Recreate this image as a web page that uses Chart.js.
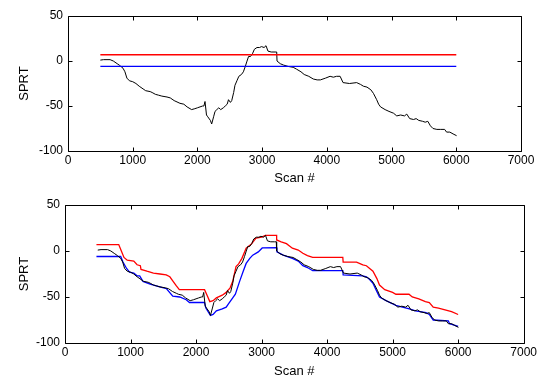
<!DOCTYPE html>
<html>
<head>
<meta charset="utf-8">
<script src="https://cdn.jsdelivr.net/npm/chart.js@4"></script>
<style>
  body { margin: 0; background: #fff; }
  .wrap { position: absolute; left: 0; width: 539px; }
  #panelTop { top: 0; height: 190px; }
  #panelBot { top: 190px; height: 189px; }
</style>
</head>
<body>
<div class="wrap" id="panelTop"><canvas id="sprtTop" width="539" height="190"></canvas></div>
<div class="wrap" id="panelBot"><canvas id="sprtBot" width="539" height="189"></canvas></div>
<script>
// black SPRT trace
const scanX = [500, 550, 650, 700, 760, 800, 850, 880, 910, 950, 1000, 1050, 1100, 1160, 1200, 1270, 1300, 1350, 1400, 1450,
  1530, 1580, 1640, 1700, 1730, 1790, 1840, 1910, 1960, 2000, 2040, 2080, 2100, 2117, 2140, 2160, 2200, 2220, 2250, 2272,
  2300, 2330, 2360, 2400, 2430, 2460, 2480, 2510, 2530, 2560, 2580, 2610, 2640, 2680, 2710, 2740, 2762, 2790, 2820, 2850,
  2880, 2920, 2960, 2990, 3030, 3060, 3090, 3140, 3200, 3225, 3230, 3280, 3330, 3400, 3480, 3530, 3600, 3650, 3720, 3790,
  3850, 3900, 3980, 4050, 4100, 4150, 4205, 4250, 4350, 4460, 4520, 4565, 4620, 4680, 4720, 4770, 4800, 4830, 4900, 4960,
  5030, 5080, 5140, 5200, 5235, 5280, 5340, 5380, 5420, 5480, 5520, 5560, 5600, 5640, 5700, 5760, 5820, 5850, 5900, 5950, 6005];
const sprt = [1, 1.5, 1.5, 0, -3, -5, -8, -12, -19, -22, -23, -25, -28, -31, -33, -34, -35, -37, -38, -39,
  -40, -41, -44, -46, -47, -48, -51, -54, -53, -52, -51, -50, -50, -45, -60, -62, -66, -70, -62, -56,
  -54, -52, -54, -52, -50, -48, -43, -46, -44, -35, -27, -22, -17, -15, -12, -6, -1, 5, 5, 8,
  13, 15, 15, 16, 15, 17, 11, 10, 10, 10, 0, -3, -4.5, -6, -7, -9, -12, -15, -17, -20,
  -21, -21, -19, -17, -18, -17, -17, -24, -25, -24, -26, -28, -29, -32, -36, -43, -48, -51, -54, -56,
  -58, -61, -60, -61, -59, -64, -65, -64, -66, -67, -68, -67, -72, -75, -76, -76, -76, -79, -79, -81, -83];

// fixed thresholds (top panel)
const threshX = [500, 6000];
const upperThresh = [7, 7];
const lowerThresh = [-6, -6];

// adaptive upper bound (bottom panel, red)
const upperX = [480, 820, 860, 900, 950, 1050, 1100, 1150, 1160, 1250, 1350, 1450, 1545, 1600, 1650, 1700, 1745, 2130, 2180, 2210,
  2260, 2310, 2400, 2460, 2520, 2560, 2610, 2650, 2700, 2765, 2800, 2850, 2915, 3000, 3060, 3230, 3230, 3300, 3380, 3470,
  3560, 3630, 3700, 3780, 4240, 4245, 4450, 4545, 4600, 4700, 4760, 4800, 4880, 5000, 5050, 5250, 5300, 5400, 5500, 5560,
  5620, 5700, 5800, 5900, 6000];
const upperVal = [7, 7, 0, -7, -10, -11, -15, -16, -20, -22, -24, -25, -26, -28, -33, -38, -42, -42, -50, -55,
  -54, -51, -48, -45, -40, -33, -17, -14, -8, 3, 5, 8, 14, 15, 17, 17, 12, 10, 8, 3,
  1, -2.5, -5, -7, -7, -12, -12, -15, -16, -22, -30, -37, -42, -45, -47, -47, -50, -52, -55, -56,
  -61, -62, -64, -66, -69];

// adaptive lower bound (bottom panel, blue)
const lowerX = [480, 850, 885, 940, 985, 1050, 1100, 1140, 1190, 1300, 1445, 1550, 1645, 1750, 1850, 1900, 2130, 2150, 2220, 2260,
  2310, 2400, 2460, 2500, 2560, 2600, 2665, 2720, 2765, 2820, 2865, 2950, 3010, 3230, 3235, 3330, 3470, 3560, 3630, 3700,
  3780, 4240, 4245, 4545, 4600, 4650, 4700, 4750, 4800, 4900, 5050, 5150, 5255, 5350, 5510, 5560, 5620, 5850, 5870, 6000];
const lowerVal = [-6, -6, -12, -19, -23, -24, -27, -27, -33, -36, -39, -41, -49, -50, -53, -56, -56, -62, -70, -69,
  -65, -63, -61, -57, -51, -47, -33, -22, -13.5, -8, -4.5, -1, 3.3, 3.6, -1, -4.5, -8, -11, -16, -18,
  -21.4, -21.4, -26, -27, -28, -31, -35, -42.6, -50, -54, -59, -61, -63, -65, -67, -69, -75, -76, -79, -82];

const xTicks = [0, 1000, 2000, 3000, 4000, 5000, 6000, 7000];
const yTicks = [-100, -50, 0, 50];

const pts = (xs, ys) => xs.map((x, i) => ({ x: x, y: ys[i] }));

const font = { family: 'Liberation Sans, Arial, sans-serif', size: 12 };

// box + inward ticks like matlab
const matlabBox = {
  id: 'matlabBox',
  afterDatasetsDraw(chart) {
    const ctx = chart.ctx;
    const a = chart.chartArea;
    const sx = chart.scales.x, sy = chart.scales.y;
    const l = Math.round(a.left) + 0.5, r = Math.round(a.right) + 0.5;
    const t = Math.round(a.top) + 0.5, b = Math.round(a.bottom) + 0.5;
    ctx.save();
    ctx.strokeStyle = '#000';
    ctx.lineWidth = 1;
    ctx.beginPath();
    ctx.moveTo(l, t); ctx.lineTo(r, t); ctx.lineTo(r, b); ctx.lineTo(l, b); ctx.closePath();
    xTicks.forEach(v => {
      const px = Math.round(sx.getPixelForValue(v)) + 0.5;
      ctx.moveTo(px, b); ctx.lineTo(px, b - 4);
      ctx.moveTo(px, t); ctx.lineTo(px, t + 4);
    });
    yTicks.forEach(v => {
      const py = Math.round(sy.getPixelForValue(v)) + 0.5;
      ctx.moveTo(l, py); ctx.lineTo(l + 4, py);
      ctx.moveTo(r, py); ctx.lineTo(r - 4, py);
    });
    ctx.stroke();
    ctx.restore();
  }
};

function makeChart(id, datasets, pad, yW, xH, titleBottom) {
  new Chart(document.getElementById(id), {
    type: 'scatter',
    data: { datasets: datasets },
    options: {
      responsive: false,
      animation: false,
      layout: { padding: pad },
      plugins: { legend: { display: false }, tooltip: { enabled: false } },
      scales: {
        x: {
          min: 0, max: 7000,
          afterFit: s => { s.height = xH; },
          afterBuildTicks: s => { s.ticks = xTicks.map(v => ({ value: v })); },
          grid: { display: false, drawTicks: false },
          border: { display: false },
          ticks: { color: '#000', font: font, padding: 2, maxRotation: 0, callback: v => String(v) },
          title: { display: true, text: 'Scan #', color: '#000', font: { family: font.family, size: 13 }, padding: { top: 0, bottom: titleBottom } }
        },
        y: {
          min: -100, max: 50,
          afterFit: s => { s.width = yW; },
          afterBuildTicks: s => { s.ticks = yTicks.map(v => ({ value: v })); },
          grid: { display: false, drawTicks: false },
          border: { display: false },
          ticks: { color: '#000', font: font, padding: 5, callback: v => String(v) },
          title: { display: true, text: 'SPRT', color: '#000', font: { family: font.family, size: 13 }, padding: { top: 17, bottom: 0 } }
        }
      }
    },
    plugins: [matlabBox]
  });
}

const lineDs = (data, color, w) => ({
  data: data, showLine: true, borderColor: color, borderWidth: w,
  pointRadius: 0, fill: false, tension: 0
});

makeChart('sprtTop', [
  lineDs(pts(threshX, upperThresh), '#ff0000', 1.4),
  lineDs(pts(threshX, lowerThresh), '#0000ff', 1.4),
  lineDs(pts(scanX, sprt), '#000000', 1)
], { left: 0, right: 18, top: 16, bottom: 0 }, 68, 39, 4);

makeChart('sprtBot', [
  lineDs(pts(scanX, sprt), '#000000', 1),
  lineDs(pts(upperX, upperVal), '#ff0000', 1.3),
  lineDs(pts(lowerX, lowerVal), '#0000ff', 1.3)
], { left: 0, right: 15, top: 15, bottom: 0 }, 65, 36, 0);
</script>
</body>
</html>
